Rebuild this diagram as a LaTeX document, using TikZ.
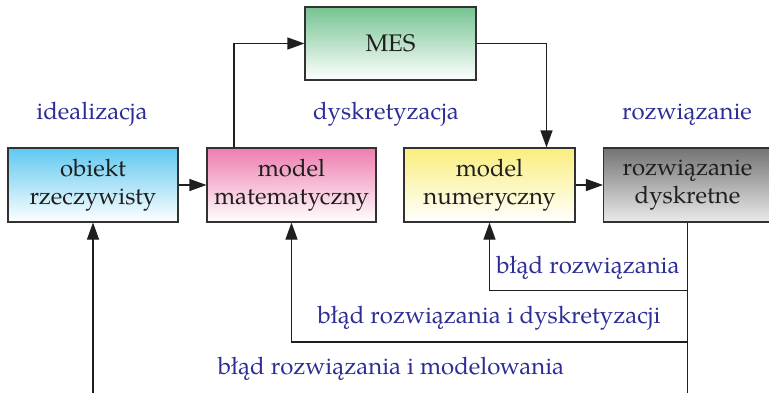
\documentclass[tikz,border=0pt]{standalone}
\usepackage{fontspec}
\setmainfont{TeX Gyre Pagella}
\usetikzlibrary{arrows.meta}
\definecolor{lblue}{RGB}{45,45,150}
\definecolor{edgec}{RGB}{50,50,50}
\definecolor{cblue}{RGB}{95,200,240}
\definecolor{cpink}{RGB}{238,125,175}
\definecolor{cgreen}{RGB}{118,195,145}
\definecolor{cyellow}{RGB}{250,238,125}
\definecolor{cgrey}{RGB}{115,115,115}
\tikzset{
  box/.style={draw=edgec, line width=1.1pt, minimum width=170pt, minimum height=74pt,
    align=center, inner sep=0pt, text=black!88,
    font=\fontsize{24}{28}\selectfont},
  lbl/.style={text=lblue, anchor=base, inner sep=0pt, font=\fontsize{24}{28}\selectfont},
  conn/.style={line width=1.1pt, draw=black!88, -{Triangle[length=17pt,width=12pt]}},
  plain/.style={line width=1.1pt, draw=black!88}
}
\begin{document}
\begin{tikzpicture}[x=1pt,y=-1pt]
\clip (0,0) rectangle (769,392);
\useasboundingbox (0,0) rectangle (769,392);
\node[box, top color=cblue, bottom color=white] (ob) at (93,185) {obiekt\\rzeczywisty};
\node[box, top color=cpink, bottom color=white, minimum width=169pt] (mm) at (291.5,185) {model\\matematyczny};
\node[box, top color=cgreen, bottom color=white, minimum width=171pt, minimum height=73pt] (mes) at (390.5,43.5) {MES};
\node[box, top color=cyellow, bottom color=white, minimum width=171pt] (mn) at (489.5,185) {model\\numeryczny};
\node[box, top color=cgrey, bottom color=white!92!black, minimum width=168pt] (rd) at (687.5,185) {rozwiązanie\\dyskretne};

\node[lbl] (l1) at (92,119) {idealizacja};
\node[lbl] (l2) at (386,119) {dyskretyzacja};
\node[lbl] (l3) at (687,119) {rozwiązanie};
\node[lbl] (e1) at (588,273) {błąd rozwiązania};
\node[lbl] (e2) at (489,323) {błąd rozwiązania i dyskretyzacji};
\node[lbl] (e3) at (391,374) {błąd rozwiązania i modelowania};

\coordinate (bl) at (93,400);
\coordinate (br) at (687.5,400);
\coordinate (j1) at (687.5,290.5);
\coordinate (j2) at (687.5,342);

\draw[conn] (ob) -- (mm);
\draw[conn] (mn) -- (rd);
\draw[conn] (mm.north -| 234,0) |- (mes.west);
\draw[conn] (mes.east) -| (546.5,0 |- mn.north);
\draw[plain] (rd.south) -- (br);
\draw[conn] (j1) -| (mn.south);
\draw[conn] (j2) -| (mm.south);
\draw[conn] (bl) -- (ob.south);
\end{tikzpicture}
\end{document}
